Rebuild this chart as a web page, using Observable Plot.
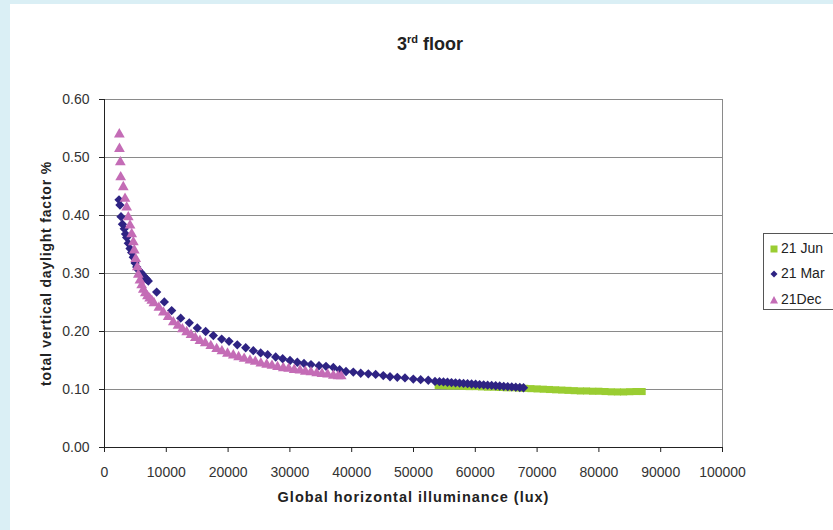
<!DOCTYPE html>
<html>
<head>
<meta charset="utf-8">
<script src="https://cdn.jsdelivr.net/npm/d3@7"></script>
<script src="https://cdn.jsdelivr.net/npm/@observablehq/plot@0.6"></script>
<style>
  html, body { margin: 0; padding: 0; }
  body { width: 833px; height: 530px; overflow: hidden; background: #daeff5; position: relative;
         font-family: "Liberation Sans", Arial, sans-serif; }
  #panel { position: absolute; left: 10px; top: 4px; width: 823px; height: 526px; background: #fff; }
  #chart { position: absolute; left: 0; top: 0; }
  #title { position: absolute; left: 0; top: 30px; width: 840px; text-align: center;
           font-weight: bold; font-size: 18px; color: #222; line-height: 20px; }
  #title sup { font-size: 11px; vertical-align: 7px; line-height: 0; }
  #legend { position: absolute; left: 753px; top: 229px; width: 90px; height: 77px;
            border: 1px solid #555; background: #fff; box-sizing: border-box; }
  .item { position: absolute; left: 5px; font-size: 14px; color: #222; line-height: 15px; white-space: nowrap; }
  .item svg { vertical-align: -1px; margin-right: 2px; }
</style>
</head>
<body>
<div id="panel">
  <div id="chart"></div>
  <div id="title">3<sup>rd</sup> floor</div>
  <div id="legend"></div>
</div>
<script>
// ---- data ----
const seriesNames = ["21 Jun", "21 Mar", "21Dec"];
const seriesColors = ["#9acd32", "#2e2383", "#c46cb6"];

const junLux = [54000, 55000, 56000, 57000, 58000, 59000, 60000, 61000, 62000, 63000, 64000, 65000,
  66000, 67000, 68000, 69000, 70000, 71000, 72000, 73000, 74000, 75000, 76000, 77000, 78000, 79000,
  80000, 81000, 82000, 83000, 84000, 85000, 86000, 87000];
const junDF = [0.107, 0.1065, 0.106, 0.106, 0.1055, 0.105, 0.105, 0.1045, 0.104, 0.104, 0.1035, 0.103,
  0.103, 0.1025, 0.102, 0.1015, 0.101, 0.1005, 0.100, 0.0995, 0.099, 0.0985, 0.098, 0.0975, 0.0975, 0.097,
  0.097, 0.0965, 0.096, 0.0958, 0.0958, 0.0962, 0.0965, 0.0965];

const marLux = [2350, 2500, 2670, 2900, 3200, 3400, 3590, 3850, 4130, 4400, 4660, 4950, 5210, 5500, 5800,
  6020, 6300, 6550, 6830, 7090, 8440, 9680, 10870, 12330, 13720, 15020, 16370, 17610, 18960, 20150,
  21490, 22850, 24080, 25270, 26400, 27700, 28830, 30020, 31200, 32280, 33410, 34710, 35840, 37030,
  38050, 39080, 40260, 41460, 42690, 43880, 45110, 46200, 47380, 48620, 49970, 51160, 52390, 53480,
  54200, 54850, 55500, 56150, 56800, 57450, 58100, 58750, 59400, 60050, 60700, 61350, 62000, 62650,
  63300, 63950, 64600, 65250, 65900, 66550, 67200, 67800];
const marDF = [0.427, 0.418, 0.398, 0.385, 0.377, 0.368, 0.362, 0.352, 0.343, 0.336, 0.328, 0.318, 0.311,
  0.306, 0.302, 0.300, 0.296, 0.293, 0.290, 0.287, 0.268, 0.251, 0.236, 0.223, 0.215, 0.206, 0.200, 0.193,
  0.187, 0.183, 0.177, 0.172, 0.167, 0.163, 0.160, 0.156, 0.153, 0.150, 0.147, 0.145, 0.143, 0.141, 0.140,
  0.138, 0.134, 0.131, 0.130, 0.128, 0.127, 0.126, 0.124, 0.122, 0.121, 0.120, 0.118, 0.117, 0.116, 0.114,
  0.1135, 0.113, 0.1125, 0.112, 0.1115, 0.111, 0.1105, 0.110, 0.1095, 0.109, 0.1085, 0.108, 0.1075, 0.107,
  0.1065, 0.106, 0.1055, 0.105, 0.1045, 0.104, 0.1035, 0.103];

const decLux = [2400, 2420, 2560, 2620, 3040, 3320, 3590, 3850, 4130, 4400, 4670, 4820, 5050, 5310, 5470,
  5740, 6020, 6280, 6600, 6950, 7300, 7650, 8000, 8800, 9520, 10300, 11130, 11900, 12600, 13300, 14000,
  14700, 15450, 16300, 17200, 18150, 19000, 19900, 20840, 21700, 22600, 23540, 24400, 25300, 26240,
  27100, 28000, 28930, 29800, 30700, 31630, 32500, 33400, 34330, 35200, 36100, 37030, 37800, 38300];
const decDF = [0.540, 0.515, 0.492, 0.466, 0.449, 0.429, 0.414, 0.397, 0.383, 0.368, 0.354, 0.340, 0.325,
  0.311, 0.298, 0.288, 0.280, 0.272, 0.266, 0.261, 0.257, 0.253, 0.249, 0.241, 0.233, 0.225, 0.216, 0.210,
  0.204, 0.199, 0.194, 0.189, 0.184, 0.180, 0.175, 0.170, 0.166, 0.162, 0.159, 0.156, 0.153, 0.150, 0.148,
  0.145, 0.143, 0.141, 0.139, 0.137, 0.136, 0.134, 0.133, 0.131, 0.130, 0.128, 0.127, 0.126, 0.124, 0.123,
  0.123];

const xTicks = [0, 10000, 20000, 30000, 40000, 50000, 60000, 70000, 80000, 90000, 100000];
const yTicks = [0, 0.1, 0.2, 0.3, 0.4, 0.5, 0.6];
const xLabel = "Global horizontal illuminance (lux)";
const yLabel = "total vertical daylight factor %";

// ---- build tables ----
const jun = junLux.map((x, i) => ({x, y: junDF[i]}));
const mar = marLux.map((x, i) => ({x, y: marDF[i]}));
const dec = decLux.map((x, i) => ({x, y: decDF[i]}));

const fontFam = '"Liberation Sans", Arial, sans-serif';

const chart = Plot.plot({
  width: 823,
  height: 526,
  marginLeft: 94,
  marginRight: 111,
  marginTop: 95,
  marginBottom: 83,
  style: {background: "transparent", color: "#333", fontFamily: fontFam, overflow: "visible"},
  x: {domain: [0, 100000]},
  y: {domain: [0, 0.6]},
  marks: [
    Plot.gridY(yTicks, {stroke: "#8a8a8a", strokeOpacity: 1, strokeWidth: 1}),
    Plot.ruleX([100000], {stroke: "#8a8a8a"}),
    Plot.ruleX([0], {stroke: "#222"}),
    Plot.ruleY([0], {stroke: "#222"}),
    Plot.axisY(yTicks, {tickFormat: d3.format(".2f"), tickSize: 5, tickPadding: 10, fontSize: 14,
      fill: "#333", stroke: "#222", label: null}),
    Plot.axisX(xTicks, {tickFormat: d3.format("d"), tickSize: 5, tickPadding: 15, fontSize: 14,
      fill: "#333", stroke: "#222", label: null}),
    Plot.dot(jun, {x: "x", y: "y", symbol: "square", r: 4.0, fill: seriesColors[0], stroke: "none"}),
    Plot.dot(mar, {x: "x", y: "y", symbol: "diamond2", r: 4.2, fill: seriesColors[1], stroke: "none"}),
    Plot.dot(dec, {x: "x", y: "y", symbol: "triangle", r: 4.0, fill: seriesColors[2], stroke: "none"}),
    Plot.text([yLabel], {frameAnchor: "left", textAnchor: "middle", dx: -58, rotate: -90,
      fontWeight: "bold", fontSize: 14, fill: "#222", fontFamily: fontFam}),
    Plot.text([xLabel], {frameAnchor: "bottom", textAnchor: "middle", dy: 54, fontWeight: "bold",
      fontSize: 14.5, fill: "#222", fontFamily: fontFam})
  ]
});
document.getElementById("chart").appendChild(chart);
// widen letter spacing of the axis titles to match the reference's lettering
chart.querySelectorAll("text").forEach(t => {
  if (t.textContent === xLabel) t.setAttribute("letter-spacing", "1px");
  if (t.textContent === yLabel) t.setAttribute("letter-spacing", "0.8px");
});

// ---- legend ----
const legend = document.getElementById("legend");
const symbols = ["square", "diamond", "triangle"];
const tops = [7, 32, 58];
seriesNames.forEach((name, i) => {
  const item = document.createElement("div");
  item.className = "item";
  item.style.top = tops[i] + "px";
  let shape;
  const c = seriesColors[i];
  if (symbols[i] === "square") shape = `<rect x="1.5" y="1.5" width="7" height="7" fill="${c}"/>`;
  else if (symbols[i] === "diamond") shape = `<polygon points="5,1.5 8.5,5 5,8.5 1.5,5" fill="${c}"/>`;
  else shape = `<polygon points="5,1 9,8.5 1,8.5" fill="${c}"/>`;
  item.innerHTML = `<svg width="10" height="10">${shape}</svg>` + name;
  legend.appendChild(item);
});
</script>
</body>
</html>
